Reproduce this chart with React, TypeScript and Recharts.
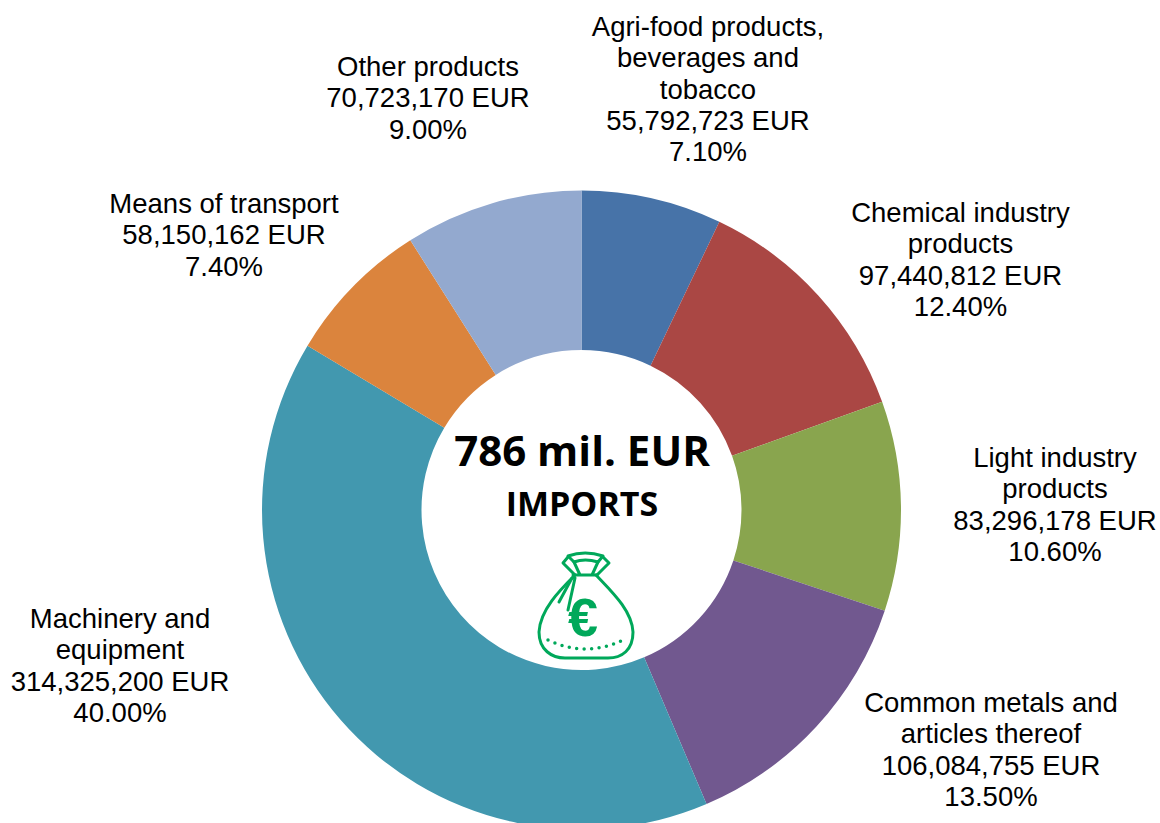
import { PieChart, Pie, Cell } from 'recharts';

const categories = [
  'Agri-food products, beverages and tobacco',
  'Chemical industry products',
  'Light industry products',
  'Common metals and articles thereof',
  'Machinery and equipment',
  'Means of transport',
  'Other products',
];
const values = [55792723, 97440812, 83296178, 106084755, 314325200, 58150162, 70723170];
const percents = ['7.10%', '12.40%', '10.60%', '13.50%', '40.00%', '7.40%', '9.00%'];
const colors = ['#4773A8', '#AA4744', '#89A54E', '#71588F', '#4298AF', '#DB843D', '#93A9CF'];

const labelLines = [
  ['Agri-food products,', 'beverages and', 'tobacco', '55,792,723 EUR', '7.10%'],
  ['Chemical industry', 'products', '97,440,812 EUR', '12.40%'],
  ['Light industry', 'products', '83,296,178 EUR', '10.60%'],
  ['Common metals and', 'articles thereof', '106,084,755 EUR', '13.50%'],
  ['Machinery and', 'equipment', '314,325,200 EUR', '40.00%'],
  ['Means of transport', '58,150,162 EUR', '7.40%'],
  ['Other products', '70,723,170 EUR', '9.00%'],
];
// label anchor (centre x, first baseline y) in chart pixels
const labelPos = [
  [708, 36],
  [960.5, 222],
  [1055, 467],
  [991, 712],
  [120, 628],
  [224, 213],
  [428, 76],
];

const data = categories.map((name, i) => ({ name, value: values[i], percent: percents[i] }));

function renderLabel(props: any) {
  const i = props.index;
  const [x, y] = labelPos[i];
  return (
    <text key={i} x={x} textAnchor="middle" fontSize={27.5} fill="#000" fontFamily="Liberation Sans">
      {labelLines[i].map((l, j) => (
        <tspan key={j} x={x} y={y + j * 31.25}>{l}</tspan>
      ))}
    </text>
  );
}

function MoneyBag() {
  return (
    <g fill="none" stroke="#00A85A" strokeWidth={3} strokeLinejoin="round" strokeLinecap="round">
      <path d="M568 556 Q585 550 603 556 L598 562 Q585 558 574 562 Z" />
      <path d="M568 557 L563 563 L575 575 M603 557 L609 563 L597 575" />
      <path d="M574 562 L580 575 M598 562 L592 575 M573 575 L597 575" />
      <path d="M575 575 C 560 590, 540 610, 539 632 C 539 650, 552 658, 565 658 L 608 658 C 622 658, 633 650, 633 632 C 632 610, 610 590, 596 575" />
      <path d="M572 578 L559 602 M575 578 L568 610" />
      <path d="M548 640 Q586 658 623 640" strokeDasharray="0 7.5" strokeWidth={3.5} />
      <text x={583} y={636} fontSize={54} fontWeight="bold" fill="#00A85A" stroke="none" textAnchor="middle" fontFamily="Liberation Sans">€</text>
    </g>
  );
}

export default function App() {
  return (
    <PieChart
      width={1160}
      height={823}
      margin={{ top: 0, right: 0, bottom: 0, left: 0 }}
      style={{ position: 'absolute', left: 0, top: 0 }}
    >
      <Pie
        data={data}
        dataKey="value"
        nameKey="name"
        cx={581.5}
        cy={510}
        innerRadius={160}
        outerRadius={319.5}
        startAngle={90}
        endAngle={-270}
        stroke="none"
        label={renderLabel}
        labelLine={false}
        isAnimationActive={false}
      >
        {data.map((d, i) => (
          <Cell key={d.name} fill={colors[i]} />
        ))}
      </Pie>
      <text x={582} y={466} textAnchor="middle" fontSize={42} fontWeight="bold" fontFamily="Open Sans" fill="#000">786 mil. EUR</text>
      <text x={582} y={516} textAnchor="middle" fontSize={34} fontWeight="bold" fontFamily="Open Sans" fill="#000">IMPORTS</text>
      <MoneyBag />
    </PieChart>
  );
}
